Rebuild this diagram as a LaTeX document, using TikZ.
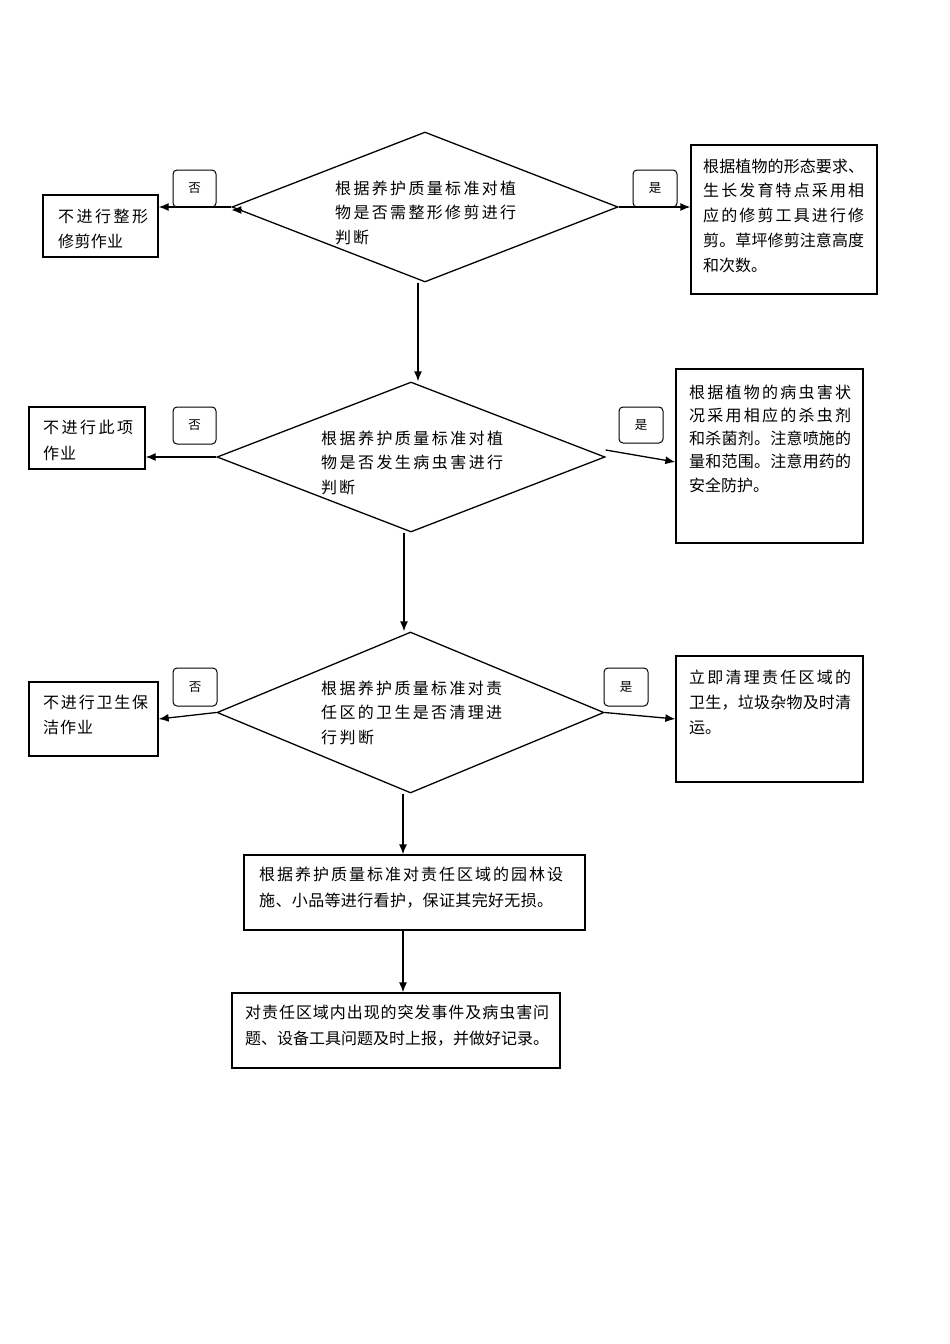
\documentclass[tikz,border=0pt]{standalone}
\usepackage{fontspec}
\newfontfamily\cjk{Noto Sans CJK SC}
\usetikzlibrary{shapes.geometric,arrows.meta}
\makeatletter
\newcommand\spr[2]{\hbox to #1{\spr@a#2\@nil}}
\def\spr@a#1{#1\spr@b}
\def\spr@b#1{\ifx\@nil#1\else\hfil#1\expandafter\spr@b\fi}
\makeatother
\tikzset{
  ln/.style={line width=1.3pt},
  box/.style={draw, ln, rectangle, inner sep=0pt},
  dia/.style={draw, ln, diamond, inner sep=0pt},
  lab/.style={draw, line width=1pt, rectangle, rounded corners=4pt, inner sep=0pt, font=\fontsize{12.5}{14}\selectfont\cjk},
  txt/.style={inner sep=0pt, align=left, anchor=west},
  arr/.style={ln, -{Latex[length=10pt,width=8pt]}},
}
\begin{document}
\begin{tikzpicture}[x=1pt,y=-1pt]
\useasboundingbox (0,0) rectangle (950,1344);
\fill[white] (0,0) rectangle (950,1344);

% diamonds
\node[dia, minimum width=386pt, minimum height=150pt] (d1) at (425,207) {};
\node[dia, minimum width=388pt, minimum height=150pt] (d2) at (411,457) {};
\node[dia, minimum width=387pt, minimum height=161pt] (d3) at (410.5,712.5) {};

% diamond texts
\node[txt, font=\fontsize{16}{24.5}\selectfont\cjk] (d1t) at (335,212.5)
  {\spr{181pt}{根据养护质量标准对植}\\\spr{181pt}{物是否需整形修剪进行}\\\spr{34pt}{判断}};
\node[txt, font=\fontsize{16}{24.5}\selectfont\cjk] (d2t) at (321,462.5)
  {\spr{182pt}{根据养护质量标准对植}\\\spr{182pt}{物是否发生病虫害进行}\\\spr{34pt}{判断}};
\node[txt, font=\fontsize{16}{24.5}\selectfont\cjk] (d3t) at (321,712.5)
  {\spr{181pt}{根据养护质量标准对责}\\\spr{181pt}{任区的卫生是否清理进}\\\spr{53pt}{行判断}};

% left boxes
\node[box, minimum width=115pt, minimum height=62pt] (n1) at (100.5,226) {};
\node[box, minimum width=116pt, minimum height=62pt] (n2) at (87,438) {};
\node[box, minimum width=129pt, minimum height=74pt] (n3) at (93.5,719) {};
\node[txt, font=\fontsize{16}{25}\selectfont\cjk] (n1t) at (58,228.5)
  {\spr{90pt}{不进行整形}\\\spr{65pt}{修剪作业}};
\node[txt, font=\fontsize{16}{26}\selectfont\cjk] (n2t) at (43,440)
  {\spr{90pt}{不进行此项}\\\spr{33pt}{作业}};
\node[txt, font=\fontsize{16}{25}\selectfont\cjk] (n3t) at (43,714.5)
  {\spr{105pt}{不进行卫生保}\\\spr{50pt}{洁作业}};

% right boxes
\node[box, minimum width=186pt, minimum height=149pt] (r1) at (784,219.5) {};
\node[box, minimum width=187pt, minimum height=174pt] (r2) at (769.5,456) {};
\node[box, minimum width=187pt, minimum height=126pt] (r3) at (769.5,719) {};
\node[txt, font=\fontsize{16}{24.75}\selectfont\cjk] (r1t) at (703,215.5)
  {\spr{161pt}{根据植物的形态要求、}\\\spr{161pt}{生长发育特点采用相}\\\spr{161pt}{应的修剪工具进行修}\\\spr{161pt}{剪。草坪修剪注意高度}\\和次数。};
\node[txt, font=\fontsize{16}{23.25}\selectfont\cjk] (r2t) at (689,438.5)
  {\spr{162pt}{根据植物的病虫害状}\\\spr{162pt}{况采用相应的杀虫剂}\\\spr{162pt}{和杀菌剂。注意喷施的}\\\spr{162pt}{量和范围。注意用药的}\\安全防护。};
\node[txt, font=\fontsize{16}{25}\selectfont\cjk] (r3t) at (689,702)
  {\spr{162pt}{立即清理责任区域的}\\\spr{162pt}{卫生，垃圾杂物及时清}\\运。};

% bottom boxes
\node[box, minimum width=341pt, minimum height=75pt] (b4) at (414.5,892.5) {};
\node[box, minimum width=328pt, minimum height=75pt] (b5) at (396,1030.5) {};
\node[txt, font=\fontsize{16}{26}\selectfont\cjk] (b4t) at (259,888)
  {\spr{304pt}{根据养护质量标准对责任区域的园林设}\\\spr{294pt}{施、小品等进行看护，保证其完好无损。}};
\node[txt, font=\fontsize{16}{26}\selectfont\cjk] (b5t) at (245,1026)
  {\spr{304pt}{对责任区域内出现的突发事件及病虫害问}\\题、设备工具问题及时上报，并做好记录。};

% yes/no labels
\node[lab, minimum width=43pt, minimum height=37pt] (l1) at (194.5,188.5) {否};
\node[lab, minimum width=44pt, minimum height=37pt] (l2) at (655,188.5) {是};
\node[lab, minimum width=43pt, minimum height=37pt] (l3) at (194.5,425.5) {否};
\node[lab, minimum width=44pt, minimum height=36pt] (l4) at (641,425) {是};
\node[lab, minimum width=44pt, minimum height=38pt] (l5) at (195,687) {否};
\node[lab, minimum width=44pt, minimum height=38pt] (l6) at (626,687) {是};

% connectors
\draw[arr] (d1.west) -- (d1.west -| n1.east);
\draw[arr] ([xshift=10pt,yshift=-3pt]d1.west) -- ([yshift=-3pt]d1.west);
\draw[arr] (d1.east) -- (d1.east -| r1.west);
\draw[arr] ([xshift=-7pt]d1.south) -- ([xshift=-7pt]d1.south |- d2.north);

\draw[arr] (d2.west) -- (d2.west -| n2.east);
\draw[arr] ([yshift=7pt]d2.east) -- ([yshift=-6pt]r2.west);
\draw[arr] ([xshift=-7pt]d2.south) -- ([xshift=-7pt]d2.south |- d3.north);

\draw[arr] (d3.west) -- (n3.east);
\draw[arr] (d3.east) -- (r3.west);
\draw[arr] ([xshift=-7.5pt]d3.south) -- ([xshift=-7.5pt]d3.south |- b4.north);

\draw[arr] ([xshift=-11.5pt]b4.south) -- ([xshift=-11.5pt]b4.south |- b5.north);
\end{tikzpicture}
\end{document}
